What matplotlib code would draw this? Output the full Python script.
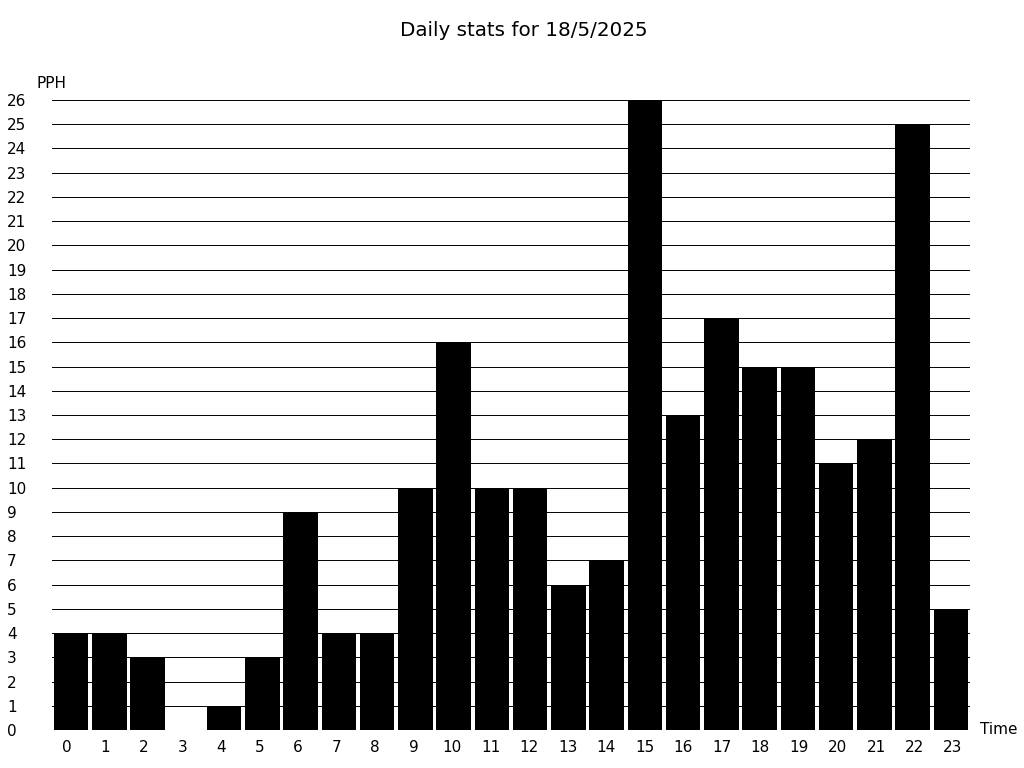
import matplotlib
matplotlib.use('Agg')
import matplotlib.pyplot as plt

hours = list(range(24))
pph = [4, 4, 3, 0, 1, 3, 9, 4, 4, 10, 16, 10, 10, 6, 7, 26, 13, 17, 15, 15, 11, 12, 25, 5]
yticks = list(range(27))

fig = plt.figure(figsize=(10.24, 7.68), dpi=100)
ax = fig.add_axes([52/1024, 38/768, 918/1024, 630/768])

ax.bar(hours, pph, width=0.9, color='black', zorder=2)
ax.set_xlim(-0.5, 23.5)
ax.set_ylim(0, 26)
ax.set_xticks([])
ax.set_yticks(yticks)
ax.set_axisbelow(True)
ax.yaxis.grid(True, color='black', linewidth=0.7)
for s in ax.spines.values():
    s.set_visible(False)
ax.tick_params(axis='both', length=0, labelsize=11)
ax.tick_params(axis='y', pad=32.5)
for lbl in ax.get_yticklabels():
    lbl.set_horizontalalignment('left')

# hour labels are spread a bit wider than the bars in the original
lab = ax.twiny()
lab.set_xlim(-0.39, 23.44)
lab.set_xticks(hours)
lab.xaxis.set_ticks_position('bottom')
lab.xaxis.set_label_position('bottom')
lab.tick_params(axis='x', length=0, labelsize=11, pad=7)
for s in lab.spines.values():
    s.set_visible(False)

fig.text(524/1024, 1 - 30/768, 'Daily stats for 18/5/2025', ha='center', va='center', fontsize=14.3)
fig.text(37/1024, 1 - 84/768, 'PPH', ha='left', va='center', fontsize=11)
fig.text(980/1024, 1 - 730/768, 'Time', ha='left', va='center', fontsize=11)

plt.savefig('out.png', dpi=100)
